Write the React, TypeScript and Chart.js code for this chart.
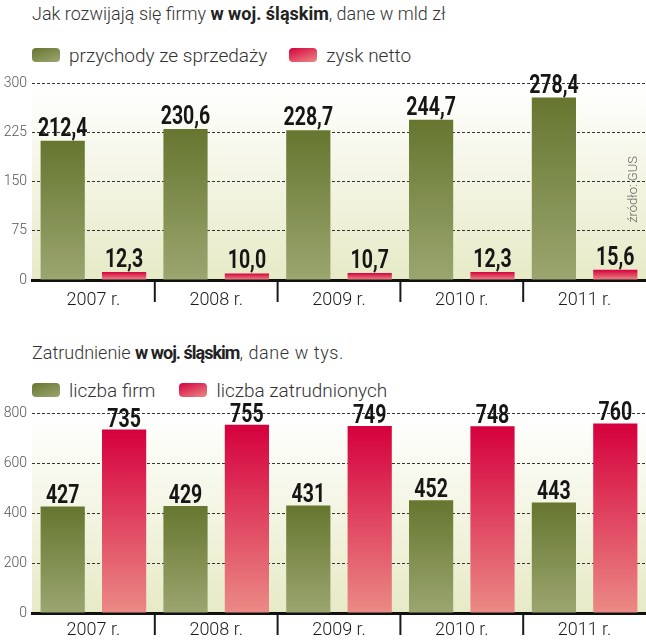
import React, { useRef, useEffect } from 'react';
import { Chart, registerables } from 'chart.js';

Chart.register(...registerables);

// ---- data ----
const years = ['2007 r.', '2008 r.', '2009 r.', '2010 r.', '2011 r.'];

const revenue = [212.4, 230.6, 228.7, 244.7, 278.4];
const netProfit = [12.3, 10.0, 10.7, 12.3, 15.6];
const financeTicks = [0, 75, 150, 225, 300];

const firms = [427, 429, 431, 452, 443];
const employed = [735, 755, 749, 748, 760];
const jobsTicks = [0, 200, 400, 600, 800];

const GREEN = { top: '#66762f', bottom: '#9ba670' };
const RED = { top: '#d5003d', bottom: '#eb8a85' };

const FONT = 'Roboto, "Noto Sans", sans-serif';

interface Series {
  name: string;
  data: number[];
  colors: { top: string; bottom: string };
}

// gradient per bar, from its top down to zero
const barFill = (c: { top: string; bottom: string }) => (ctx: any) => {
  const chart = ctx.chart;
  const y = chart.scales?.y;
  if (!y || ctx.type !== 'data') return c.top;
  const y0 = y.getPixelForValue(0);
  const y1 = y.getPixelForValue(ctx.raw as number);
  if (!isFinite(y0) || !isFinite(y1) || y0 === y1) return c.top;
  const g = chart.ctx.createLinearGradient(0, y1, 0, y0);
  g.addColorStop(0, c.top);
  g.addColorStop(1, c.bottom);
  return g;
};

const plotBackground = {
  id: 'plotBackground',
  beforeDraw(chart: any) {
    const { ctx, chartArea: a } = chart;
    if (!a) return;
    const g = ctx.createLinearGradient(0, a.top, 0, a.bottom);
    g.addColorStop(0, '#ffffff');
    g.addColorStop(1, '#e7eac6');
    ctx.save();
    ctx.fillStyle = g;
    ctx.fillRect(a.left, a.top, a.right - a.left, a.bottom - a.top);
    ctx.restore();
  },
};

const categorySeparators = {
  id: 'categorySeparators',
  afterDraw(chart: any) {
    const { ctx, chartArea: a } = chart;
    const x = chart.scales.x;
    const n = chart.data.labels.length;
    ctx.save();
    ctx.strokeStyle = '#1a1a1a';
    ctx.lineWidth = 2;
    for (let i = 1; i < n; i++) {
      const px = (x.getPixelForValue(i - 1) + x.getPixelForValue(i)) / 2;
      ctx.beginPath();
      ctx.moveTo(px, a.bottom + 2);
      ctx.lineTo(px, a.bottom + 22);
      ctx.stroke();
    }
    ctx.restore();
  },
};

interface PanelProps {
  series: Series[];
  ticks: number[];
  decimals: number;
  padTop: number;
  plotHeight: number;
  labelPad: number;
  labelGap: number;
  source?: string;
}

const BarPanel: React.FC<PanelProps> = ({ series, ticks, decimals, padTop, plotHeight, labelPad, labelGap, source }) => {
  const canvasRef = useRef<HTMLCanvasElement>(null);
  const chartRef = useRef<Chart | null>(null);

  useEffect(() => {
    if (!canvasRef.current) return;
    if (chartRef.current) chartRef.current.destroy();

    const valueLabels = {
      id: 'valueLabels',
      afterDatasetsDraw(chart: any) {
        const { ctx } = chart;
        chart.data.datasets.forEach((ds: any, di: number) => {
          chart.getDatasetMeta(di).data.forEach((el: any, i: number) => {
            const txt = Number(ds.data[i]).toFixed(decimals).replace('.', ',');
            ctx.save();
            ctx.translate(el.x, el.y - labelGap);
            ctx.scale(0.78, 1);
            ctx.font = `bold 25px ${FONT}`;
            ctx.fillStyle = '#161616';
            ctx.textAlign = 'center';
            ctx.textBaseline = 'alphabetic';
            ctx.fillText(txt, 0, 0);
            ctx.restore();
          });
        });
      },
    };

    const sourceNote = {
      id: 'sourceNote',
      afterDraw(chart: any) {
        if (!source) return;
        const { ctx, chartArea: a } = chart;
        ctx.save();
        ctx.translate(a.right - 12, a.top + 106);
        ctx.rotate(-Math.PI / 2);
        ctx.font = `300 13px ${FONT}`;
        ctx.fillStyle = '#666';
        ctx.textAlign = 'center';
        ctx.textBaseline = 'middle';
        ctx.fillText(source, 0, 0);
        ctx.restore();
      },
    };

    chartRef.current = new Chart(canvasRef.current, {
      type: 'bar',
      data: {
        labels: years,
        datasets: series.map((s) => ({
          label: s.name,
          data: s.data,
          backgroundColor: barFill(s.colors),
          borderWidth: 0,
          categoryPercentage: 1.0,
          barPercentage: 0.72,
        })),
      },
      options: {
        responsive: false,
        maintainAspectRatio: false,
        animation: false,
        layout: { padding: { top: padTop, left: 0, right: 0, bottom: 0 } },
        plugins: {
          legend: { display: false },
          tooltip: { enabled: false },
          title: { display: false },
        },
        scales: {
          x: {
            grid: { display: false },
            border: { display: true, color: '#111', width: 3 },
            ticks: {
              color: '#1a1a1a',
              font: { family: FONT, size: 18, weight: '300' },
              padding: labelPad,
              maxRotation: 0,
            },
            afterFit: (s: any) => {
              s.height = 240 - padTop - plotHeight;
            },
          },
          y: {
            min: ticks[0],
            max: ticks[ticks.length - 1],
            ticks: {
              stepSize: ticks[1] - ticks[0],
              color: '#555',
              font: { family: FONT, size: 14, weight: '300' },
              padding: 5,
            },
            grid: {
              drawTicks: false,
              color: (c: any) => (c.tick && c.tick.value === 0 ? 'rgba(0,0,0,0)' : '#333'),
              lineWidth: 1,
            },
            border: { display: false, dash: [3, 2] },
            afterFit: (s: any) => {
              s.width = 32;
            },
          },
        },
      },
      plugins: [plotBackground, categorySeparators, valueLabels, sourceNote],
    } as any);

    return () => {
      if (chartRef.current) {
        chartRef.current.destroy();
        chartRef.current = null;
      }
    };
  }, [series, ticks, decimals, padTop, plotHeight, labelPad, labelGap, source]);

  return <canvas ref={canvasRef} width={646} height={240} style={{ display: 'block' }} />;
};

const Swatch: React.FC<{ c: { top: string; bottom: string } }> = ({ c }) => (
  <span
    style={{
      display: 'inline-block',
      width: 28,
      height: 14,
      borderRadius: 4,
      background: `linear-gradient(160deg, ${c.top}, ${c.bottom})`,
      marginRight: 9,
      verticalAlign: 'middle',
      position: 'relative',
      top: -2,
    }}
  />
);

const Legend: React.FC<{ series: Series[]; gaps: number[]; top: number }> = ({ series, gaps, top }) => (
  <div
    style={{
      position: 'absolute',
      left: 32,
      top,
      font: `300 19px/22px ${FONT}`,
      color: '#333',
      whiteSpace: 'nowrap',
    }}
  >
    {series.map((s, i) => (
      <span key={s.name} style={{ marginRight: gaps[i] }}>
        <Swatch c={s.colors} />
        {s.name}
      </span>
    ))}
  </div>
);

const financeSeries: Series[] = [
  { name: 'przychody ze sprzedaży', data: revenue, colors: GREEN },
  { name: 'zysk netto', data: netProfit, colors: RED },
];

const jobsSeries: Series[] = [
  { name: 'liczba firm', data: firms, colors: GREEN },
  { name: 'liczba zatrudnionych', data: employed, colors: RED },
];

export default function App() {
  return (
    <div
      style={{
        position: 'absolute',
        left: 0,
        top: 0,
        width: 646,
        height: 640,
        background: '#fff',
        overflow: 'hidden',
        fontFamily: FONT,
      }}
    >
      <div style={{ position: 'absolute', left: 32, top: 3, font: `300 18px/21px ${FONT}`, color: '#333', whiteSpace: 'nowrap' }}>
        Jak rozwijają się firmy <b style={{ fontWeight: 700, color: '#222' }}>w woj. śląskim</b>, dane w mld zł
      </div>
      <Legend series={financeSeries} gaps={[22, 0]} top={45} />
      <div style={{ position: 'absolute', left: 0, top: 70 }}>
        <BarPanel
          series={financeSeries}
          ticks={financeTicks}
          decimals={1}
          padTop={10}
          plotHeight={200}
          labelPad={2}
          labelGap={5}
          source="źródło: GUS"
        />
      </div>

      <div style={{ position: 'absolute', left: 32, top: 342, font: `300 18px/21px ${FONT}`, color: '#333', whiteSpace: 'nowrap' }}>
        Zatrudnienie <b style={{ fontWeight: 700, color: '#222', letterSpacing: -1 }}>w woj. śląskim</b>
        <span style={{ letterSpacing: 0.6 }}>, dane w tys.</span>
      </div>
      <Legend series={jobsSeries} gaps={[24, 0]} top={380} />
      <div style={{ position: 'absolute', left: 0, top: 400 }}>
        <BarPanel
          series={jobsSeries}
          ticks={jobsTicks}
          decimals={0}
          padTop={11}
          plotHeight={202}
          labelPad={-1}
          labelGap={3}
        />
      </div>
    </div>
  );
}
